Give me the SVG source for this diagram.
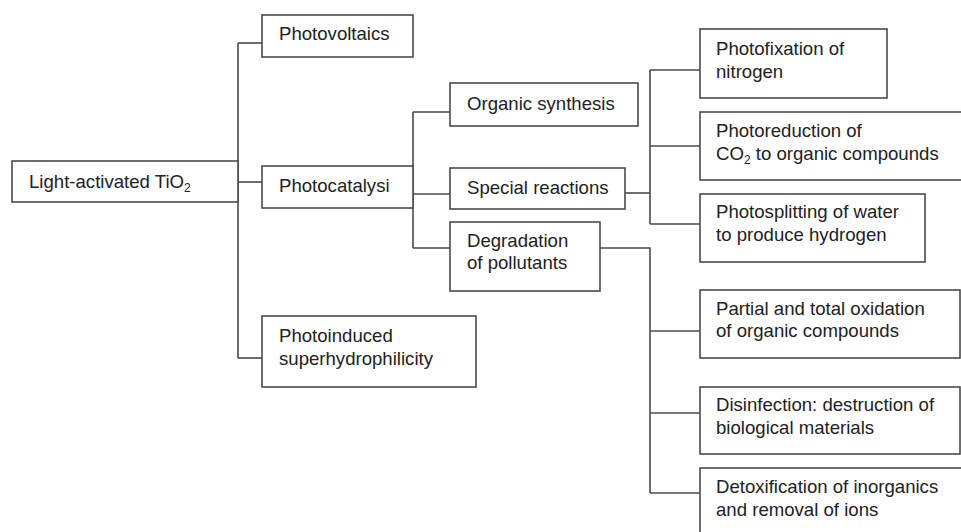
<svg xmlns="http://www.w3.org/2000/svg" width="961" height="532" viewBox="0 0 961 532">
  <style>
    .box { fill: #ffffff; stroke: #4a4a4a; stroke-width: 1.6; }
    .wire { fill: none; stroke: #4a4a4a; stroke-width: 1.6; }
    text { font-family: "Liberation Sans", Arial, sans-serif; font-size: 18.6px; fill: #222222; }
    .sub { font-size: 12px; }
  </style>
  <rect width="961" height="532" fill="#ffffff"/>

  <!-- connectors -->
  <g id="connectors">
    <!-- main trunk -->
    <path class="wire" d="M238 43 V358"/>
    <path class="wire" d="M238 43 H262"/>
    <path class="wire" d="M238 182 H262"/>
    <path class="wire" d="M238 358 H262"/>
    <!-- photocatalysis branch -->
    <path class="wire" d="M413 112 V248"/>
    <path class="wire" d="M413 112 H450"/>
    <path class="wire" d="M413 194 H450"/>
    <path class="wire" d="M413 248 H450"/>
    <!-- special reactions branch -->
    <path class="wire" d="M625 193 H650"/>
    <path class="wire" d="M650 70 V224"/>
    <path class="wire" d="M650 70 H700"/>
    <path class="wire" d="M650 146 H700"/>
    <path class="wire" d="M650 224 H700"/>
    <!-- degradation branch -->
    <path class="wire" d="M600 248 H650 V493"/>
    <path class="wire" d="M650 331 H700"/>
    <path class="wire" d="M650 413 H700"/>
    <path class="wire" d="M650 493 H700"/>
  </g>

  <g id="root">
    <rect class="box" x="12" y="161" width="226" height="41"/>
    <text x="29" y="188">Light-activated TiO<tspan class="sub" dy="4">2</tspan></text>
  </g>

  <g id="photovoltaics">
    <rect class="box" x="262" y="15" width="151" height="42"/>
    <text x="279" y="40">Photovoltaics</text>
  </g>

  <g id="photocatalysis">
    <rect class="box" x="262" y="166" width="151" height="42"/>
    <text x="279" y="192">Photocatalysi</text>
  </g>

  <g id="superhydrophilicity">
    <rect class="box" x="262" y="316" width="214" height="71"/>
    <text x="279" y="342">Photoinduced</text>
    <text x="279" y="365">superhydrophilicity</text>
  </g>

  <g id="organic-synthesis">
    <rect class="box" x="450" y="83" width="188" height="43"/>
    <text x="467" y="110">Organic synthesis</text>
  </g>

  <g id="special-reactions">
    <rect class="box" x="450" y="168" width="175" height="41"/>
    <text x="467" y="194">Special reactions</text>
  </g>

  <g id="degradation">
    <rect class="box" x="450" y="222" width="150" height="69"/>
    <text x="467" y="247">Degradation</text>
    <text x="467" y="269">of pollutants</text>
  </g>

  <g id="photofixation">
    <rect class="box" x="700" y="29" width="187" height="69"/>
    <text x="716" y="55">Photofixation of</text>
    <text x="716" y="78">nitrogen</text>
  </g>

  <g id="photoreduction">
    <rect class="box" x="700" y="112" width="270" height="68"/>
    <text x="716" y="137">Photoreduction of</text>
    <text x="716" y="160">CO<tspan class="sub" dy="4">2</tspan><tspan dy="-4"> to organic compounds</tspan></text>
  </g>

  <g id="photosplitting">
    <rect class="box" x="700" y="194" width="225" height="68"/>
    <text x="716" y="218">Photosplitting of water</text>
    <text x="716" y="241">to produce hydrogen</text>
  </g>

  <g id="oxidation">
    <rect class="box" x="700" y="290" width="260" height="68"/>
    <text x="716" y="315">Partial and total oxidation</text>
    <text x="716" y="337">of organic compounds</text>
  </g>

  <g id="disinfection">
    <rect class="box" x="700" y="387" width="260" height="67"/>
    <text x="716" y="411">Disinfection: destruction of</text>
    <text x="716" y="434">biological materials</text>
  </g>

  <g id="detoxification">
    <rect class="box" x="700" y="468" width="270" height="80"/>
    <text x="716" y="493">Detoxification of inorganics</text>
    <text x="716" y="516">and removal of ions</text>
  </g>
</svg>
